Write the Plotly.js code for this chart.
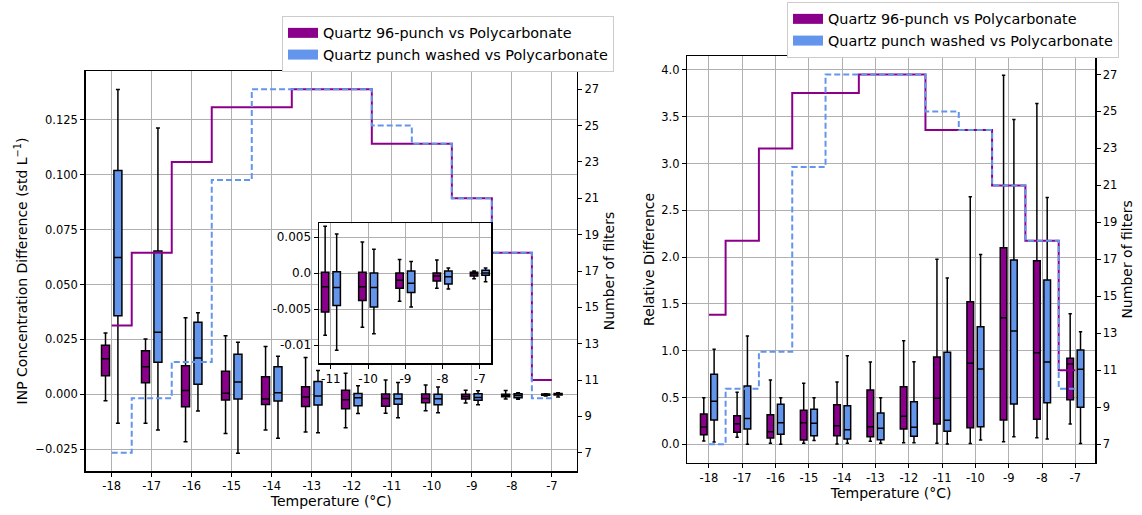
<!DOCTYPE html>
<html><head><meta charset="utf-8">
<script src="https://cdn.plot.ly/plotly-3.0.1.min.js"></script>
<style>html,body{margin:0;padding:0;background:#fff}</style>
</head><body><div id="chart" style="width:1142px;height:515px"></div>
<script>
// ---------- data ----------
const temps = [-18, -17, -16, -15, -14, -13, -12, -11, -10, -9, -8, -7];
const tempLabels = temps.map(String);

// Number of filters (step lines)
const countQuartz96 = [14, 18, 23, 26, 26, 27, 27, 24, 24, 21, 18, 11];
const countWashed   = [7, 10, 12, 22, 27, 27, 27, 25, 24, 21, 18, 10];

// INP concentration difference (std L^-1): Quartz 96-punch vs Polycarbonate
const absQ96Low  = [-0.0029, -0.0132, -0.0216, -0.0178, -0.0162, -0.0172, -0.0152, -0.0086, -0.0075, -0.0039, -0.0021, -0.0008];
const absQ96Q1   = [0.0085, 0.0053, -0.0056, -0.0026, -0.0046, -0.0055, -0.0066, -0.0054, -0.0038, -0.0021, -0.0011, -0.0004];
const absQ96Med  = [0.0162, 0.0126, 0.0018, 0.0005, -0.0021, -0.0012, -0.0025, -0.0019, -0.0019, -0.0010, -0.0004, -0.0001];
const absQ96Q3   = [0.0224, 0.0198, 0.0130, 0.0105, 0.0080, 0.0034, 0.0019, 0.0001, 0.0001, 0.0000, 0.0000, 0.0001];
const absQ96High = [0.0279, 0.0252, 0.0349, 0.0267, 0.0218, 0.0168, 0.0096, 0.0065, 0.0043, 0.0019, 0.0018, 0.0003];

// INP concentration difference: Quartz punch washed vs Polycarbonate
const absWLow  = [-0.0132, -0.0162, -0.0076, -0.0268, -0.0200, -0.0175, -0.0087, -0.0107, -0.0084, -0.0047, -0.0022, -0.0012];
const absWQ1   = [0.0358, 0.0146, 0.0046, -0.0021, -0.0030, -0.0049, -0.0052, -0.0045, -0.0047, -0.0027, -0.0015, -0.0003];
const absWMed  = [0.0623, 0.0283, 0.0165, 0.0056, 0.0007, -0.0007, -0.0015, -0.0020, -0.0020, -0.0014, -0.0005, 0.0000];
const absWQ3   = [0.1019, 0.0653, 0.0328, 0.0183, 0.0126, 0.0059, 0.0004, 0.0002, 0.0000, 0.0003, 0.0003, 0.0004];
const absWHigh = [0.1388, 0.1213, 0.0371, 0.0237, 0.0173, 0.0108, 0.0039, 0.0054, 0.0033, 0.0016, 0.0007, 0.0007];

// Relative difference: Quartz 96-punch vs Polycarbonate
const relQ96Low  = [0.035, 0.075, 0.010, 0.010, 0.003, 0.032, 0.017, 0.010, 0.007, 0.028, 0.070, 0.217];
const relQ96Q1   = [0.103, 0.128, 0.067, 0.046, 0.092, 0.081, 0.163, 0.217, 0.177, 0.260, 0.267, 0.476];
const relQ96Med  = [0.185, 0.220, 0.135, 0.231, 0.199, 0.188, 0.299, 0.491, 0.865, 1.352, 0.978, 0.858];
const relQ96Q3   = [0.323, 0.306, 0.316, 0.363, 0.423, 0.580, 0.615, 0.932, 1.523, 2.100, 1.961, 0.918];
const relQ96High = [0.498, 0.555, 0.687, 0.651, 0.665, 0.879, 1.107, 1.976, 2.644, 3.944, 3.642, 1.395];

// Relative difference: Quartz punch washed vs Polycarbonate
const relWLow  = [0.025, 0.000, 0.000, 0.039, 0.010, 0.010, 0.017, 0.003, 0.046, 0.081, 0.057, 0.007];
const relWQ1   = [0.260, 0.163, 0.107, 0.092, 0.057, 0.049, 0.085, 0.139, 0.188, 0.430, 0.444, 0.395];
const relWMed  = [0.459, 0.274, 0.231, 0.224, 0.156, 0.171, 0.182, 0.256, 0.804, 1.210, 0.879, 0.801];
const relWQ3   = [0.747, 0.623, 0.427, 0.374, 0.412, 0.334, 0.455, 0.982, 1.256, 1.968, 1.755, 1.007];
const relWHigh = [1.014, 1.157, 0.498, 0.498, 0.946, 0.498, 0.882, 1.776, 2.029, 3.471, 2.638, 1.203];

// inset shows the warmest temperatures (from -11 °C)
const insetStart = 7;
const insetTickVals = [0.005, 0.0, -0.005, -0.01];
const insetTickText = ['0.005', '0.0', '-0.005', '-0.01'];

const seriesNames = ['Quartz 96-punch vs Polycarbonate', 'Quartz punch washed vs Polycarbonate'];

// ---------- styling ----------
const PURPLE = '#8b008b';
const BLUE = '#6495ed';
const FONT = 'DejaVu Sans';
const W = 1142, H = 515;
const fx = p => p / W;
const fy = p => 1 - p / H;

function boxTrace(xs, lo, q1, med, q3, hi, color, xa, ya, og, ag) {
  return {
    type: 'box', x: xs, lowerfence: lo, q1: q1, median: med, q3: q3, upperfence: hi,
    fillcolor: color, line: {color: '#000', width: 1.5}, whiskerwidth: 0.5,
    boxpoints: false, xaxis: xa, yaxis: ya, offsetgroup: og, alignmentgroup: ag,
    showlegend: false, hoverinfo: 'skip'
  };
}
function stepTrace(counts, color, dash, xa, ya) {
  return {
    type: 'scatter', mode: 'lines', x: temps, y: counts, xaxis: xa, yaxis: ya,
    line: {shape: 'hvh', color: color, width: 2, dash: dash},
    showlegend: false, hoverinfo: 'skip'
  };
}
function legendTrace(name, color, leg) {
  return {type: 'scatter', mode: 'lines', x: [null], y: [null], name: name,
    line: {color: color, width: 11}, legend: leg, hoverinfo: 'skip'};
}
const sl = arr => arr.slice(insetStart);

const traces = [
  // left panel
  boxTrace(temps, absQ96Low, absQ96Q1, absQ96Med, absQ96Q3, absQ96High, PURPLE, 'x', 'y', 'a', 'L'),
  boxTrace(temps, absWLow, absWQ1, absWMed, absWQ3, absWHigh, BLUE, 'x', 'y', 'b', 'L'),
  stepTrace(countQuartz96, PURPLE, 'solid', 'x', 'y2'),
  stepTrace(countWashed, BLUE, '6px,3px', 'x', 'y2'),
  // right panel
  boxTrace(temps, relQ96Low, relQ96Q1, relQ96Med, relQ96Q3, relQ96High, PURPLE, 'x2', 'y3', 'a', 'R'),
  boxTrace(temps, relWLow, relWQ1, relWMed, relWQ3, relWHigh, BLUE, 'x2', 'y3', 'b', 'R'),
  stepTrace(countQuartz96, PURPLE, 'solid', 'x2', 'y4'),
  stepTrace(countWashed, BLUE, '6px,3px', 'x2', 'y4'),
  // inset
  boxTrace(sl(temps), sl(absQ96Low), sl(absQ96Q1), sl(absQ96Med), sl(absQ96Q3), sl(absQ96High), PURPLE, 'x3', 'y5', 'a', 'I'),
  boxTrace(sl(temps), sl(absWLow), sl(absWQ1), sl(absWMed), sl(absWQ3), sl(absWHigh), BLUE, 'x3', 'y5', 'b', 'I'),
  // legends
  legendTrace(seriesNames[0], PURPLE, 'legend'),
  legendTrace(seriesNames[1], BLUE, 'legend'),
  legendTrace(seriesNames[0], PURPLE, 'legend2'),
  legendTrace(seriesNames[1], BLUE, 'legend2')
];

const axBase = {
  showline: true, linecolor: '#000', linewidth: 1.5, ticks: 'outside', ticklen: 4,
  tickcolor: '#000', tickwidth: 1, zeroline: false, gridcolor: '#b0b0b0', gridwidth: 1,
  tickfont: {family: FONT, size: 11.5, color: '#000'}, automargin: false
};
const xCat = Object.assign({}, axBase, {mirror: true, showgrid: true, tickvals: temps, ticktext: tempLabels});
const titleFont = {family: FONT, size: 14, color: '#000'};
const legendFont = {family: FONT, size: 14.4, color: '#000'};

const layout = {
  width: W, height: H, margin: {l: 0, r: 0, t: 0, b: 0},
  paper_bgcolor: '#fff', plot_bgcolor: '#fff',
  font: {family: FONT, color: '#000'},
  boxmode: 'group', boxgap: 0.38, boxgroupgap: 0.355,
  xaxis: Object.assign({}, xCat, {domain: [fx(85.7), fx(576.7)], range: [-18.65, -6.38], anchor: 'y',
    title: {text: 'Temperature (°C)', font: titleFont, standoff: 4}}),
  yaxis: Object.assign({}, axBase, {domain: [fy(471), fy(71)], range: [-0.0349, 0.1472], anchor: 'x',
    mirror: true, showgrid: true, dtick: 0.025, tick0: 0, tickformat: '.3f',
    title: {text: 'INP Concentration Difference (std L<sup>−1</sup>)', font: titleFont, standoff: 4}}),
  yaxis2: Object.assign({}, axBase, {overlaying: 'y', side: 'right', anchor: 'x', range: [6, 28],
    showgrid: false, dtick: 2, tick0: 7,
    title: {text: 'Number of filters', font: titleFont, standoff: 6}}),
  xaxis2: Object.assign({}, xCat, {domain: [fx(687.3), fx(1095)], range: [-18.65, -6.41], anchor: 'y3',
    title: {text: 'Temperature (°C)', font: titleFont, standoff: 4}}),
  yaxis3: Object.assign({}, axBase, {domain: [fy(462.7), fy(56)], range: [-0.197, 4.149], anchor: 'x2',
    mirror: true, showgrid: true, dtick: 0.5, tick0: 0, tickformat: '.1f',
    title: {text: 'Relative Difference', font: titleFont, standoff: 3}}),
  yaxis4: Object.assign({}, axBase, {overlaying: 'y3', side: 'right', anchor: 'x2', range: [6, 28],
    showgrid: false, dtick: 2, tick0: 7,
    title: {text: 'Number of filters', font: titleFont, standoff: 6}}),
  xaxis3: Object.assign({}, xCat, {domain: [fx(319), fx(491)], range: [-11.32, -6.7], anchor: 'y5',
    tickvals: sl(temps), ticktext: sl(tempLabels), tickfont: {family: FONT, size: 12, color: '#000'}}),
  yaxis5: Object.assign({}, axBase, {domain: [fy(363.3), fy(223.3)], range: [-0.0125, 0.0069], anchor: 'x3',
    mirror: true, showgrid: true, tickvals: insetTickVals, ticktext: insetTickText,
    tickfont: {family: FONT, size: 12, color: '#000'}}),
  legend: {x: fx(282), y: fy(16), xanchor: 'left', yanchor: 'top', bgcolor: '#fff',
    bordercolor: '#cccccc', borderwidth: 1, font: legendFont, tracegroupgap: 0},
  legend2: {x: fx(787), y: fy(2), xanchor: 'left', yanchor: 'top', bgcolor: '#fff',
    bordercolor: '#cccccc', borderwidth: 1, font: legendFont, tracegroupgap: 0},
  showlegend: true
};

Plotly.newPlot('chart', traces, layout, {staticPlot: true, displayModeBar: false});
</script>
</body></html>
